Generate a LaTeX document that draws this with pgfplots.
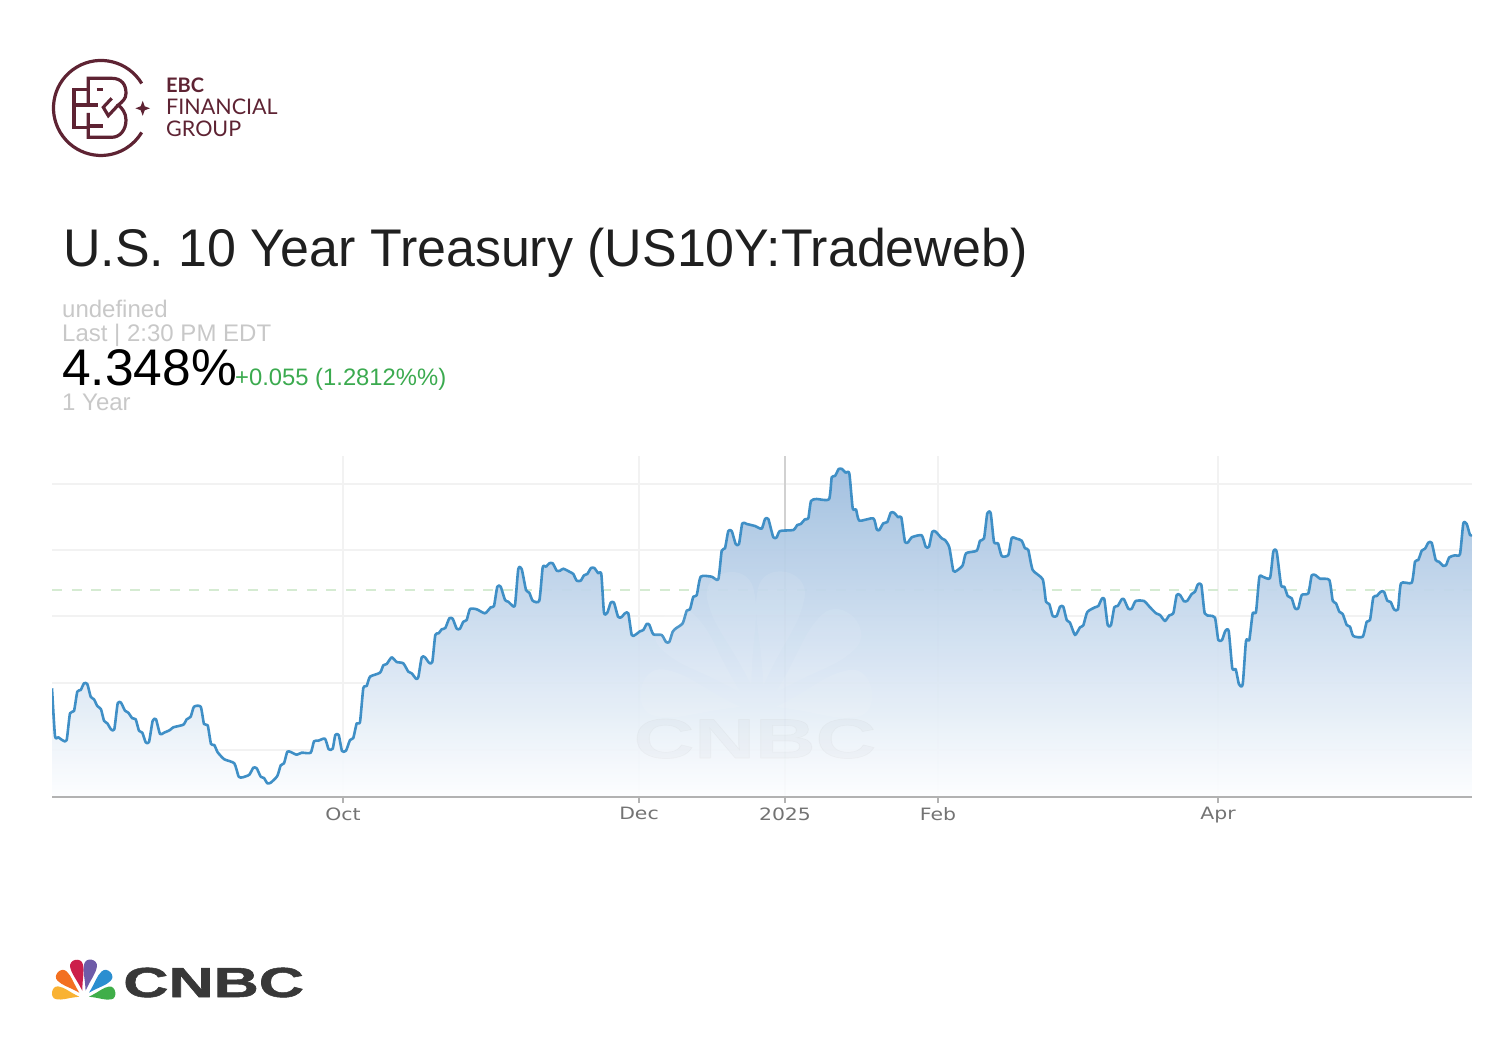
\documentclass[border=0pt]{standalone}
\usepackage{fontspec}
\setmainfont{Liberation Sans}
\newfontfamily\logofont{Lato}
\newfontfamily\tickfont{DejaVu Sans}
\newfontfamily\cnbcfont[BoldFeatures={FakeBold=1.2}]{Liberation Sans}
\usepackage{pgfplots}
\usepackage{pgfplotstable}
\pgfplotsset{compat=1.18}

\definecolor{ebc}{HTML}{5E2333}
\definecolor{linec}{HTML}{3F8FC6}
\definecolor{gridc}{HTML}{F2F2F2}
\definecolor{dashc}{HTML}{D5EBD2}
\definecolor{lightc}{HTML}{C8C8C8}
\definecolor{upc}{HTML}{3BAA4F}
\definecolor{gradtop}{HTML}{9FBEDF}
\definecolor{gradmid}{HTML}{D8E5F2}
\definecolor{gradbot}{HTML}{FDFEFF}
\definecolor{logoY}{HTML}{F9B233}
\definecolor{logoO}{HTML}{F37021}
\definecolor{logoR}{HTML}{CC1F4A}
\definecolor{logoP}{HTML}{6E5BA8}
\definecolor{logoB}{HTML}{2B8ED0}
\definecolor{logoG}{HTML}{3FAE49}

% x = horizontal position on the chart, h = height above the baseline, both
\pgfplotstableread[row sep=\\]{
x h\\
52 108.7\\ 55 61\\ 58.3 59.7\\ 63.3 56.3\\ 66.7 57\\ 70 83.7\\ 74 86\\ 77.3 105.3\\ 80.7 107\\ 84 113.7\\
87.3 113\\ 90.7 100.3\\ 94 97.7\\ 97.3 91\\ 101 87.7\\ 104 76.3\\ 107.3 73.7\\ 111 67.7\\ 114.3 67.7\\ 117.7 93.7\\
121 94.3\\ 125 86.3\\ 128.3 84.3\\ 132.3 78.7\\ 135.7 77.7\\ 139 66.3\\ 142.3 64.3\\ 145.7 54.7\\ 149 55\\ 152.7 76.3\\
156 77.7\\ 160 63\\ 164 64.3\\ 170 67\\ 173.3 69.7\\ 183.3 72.3\\ 186.7 77.7\\ 190.7 80.3\\ 194 90.3\\ 200.7 90.3\\
204 73\\ 207.7 71.7\\ 211 53\\ 214.3 52\\ 217.7 44.7\\ 224.3 37.7\\ 234.3 33.7\\ 238.7 20.3\\ 242.7 19.7\\ 249.3 22.3\\
253.3 29.3\\ 256.7 28.7\\ 260.7 20.3\\ 264 19\\ 267.3 13.7\\ 270.7 14.3\\ 277.3 21\\ 280.7 31.7\\ 284 33.7\\ 287.3 45.3\\
290.7 45\\ 296.7 42.3\\ 301.7 44.3\\ 310.7 44.3\\ 314 55.7\\ 318.3 56.3\\ 325 58.3\\ 328.7 47.7\\ 332.7 48.3\\ 335.3 62\\
338.7 62\\ 342 46\\ 346 46.3\\ 350 57\\ 353.3 59\\ 356.7 73.7\\ 360 75\\ 363.3 108.7\\ 366.7 111\\ 370 120.3\\
380 124.3\\ 383.3 131.7\\ 386.7 133\\ 391.7 139.7\\ 396.7 135\\ 403.3 133.7\\ 408.3 125.3\\ 411.7 123.7\\ 416 118.3\\ 418.3 119.7\\
421.7 139.7\\ 425 139.7\\ 429 134.3\\ 432.3 135\\ 435.3 162\\ 438.7 163.7\\ 441.7 167.7\\ 445.3 169\\ 449.3 178.7\\ 452.7 178.3\\
456.7 168.3\\ 460 168.3\\ 463.3 175.3\\ 466.7 177\\ 470 188\\ 476.7 187.7\\ 485 183.7\\ 490.7 189.7\\ 494 191\\ 497.3 210.3\\
500.7 210.3\\ 505 197\\ 508.3 195.3\\ 511.7 192\\ 515 192\\ 518.3 228\\ 521.7 228\\ 526 207\\ 529.3 204.3\\ 532.7 196.3\\
539.3 196.3\\ 542.7 229.7\\ 546 230.3\\ 549.3 233.7\\ 552.7 233.7\\ 556.7 226.3\\ 560 226.3\\ 563.3 228.3\\ 570 225\\ 573.3 223\\
576.7 216.3\\ 580.7 216.3\\ 584 221.7\\ 587.3 223\\ 591 229\\ 594.3 229\\ 598.3 223.7\\ 601.3 223\\ 604 184.3\\ 607.3 184.3\\
610.7 194.3\\ 614 194.3\\ 618 180.3\\ 621.3 179.7\\ 625 183.7\\ 628.3 183.7\\ 631.7 162\\ 635 162\\ 640 165.7\\ 643.3 167\\
646.7 173\\ 649.3 172.3\\ 653.3 162.7\\ 661.7 162\\ 666 155\\ 669.3 155\\ 672.7 165.3\\ 676 168.7\\ 682.7 173.7\\ 686.7 186.3\\
690 187.7\\ 693.3 200.3\\ 696.7 201.7\\ 700.7 220.3\\ 711.7 220.3\\ 718.3 217.7\\ 721.7 246.3\\ 725 248.7\\ 728.3 266\\ 731.7 266\\
735.7 253\\ 739 253\\ 742.3 273.7\\ 746.7 273\\ 755 271\\ 761.7 268.3\\ 765 278\\ 768.3 278\\ 773.3 259.7\\ 776.7 259.7\\
780 266\\ 793.3 267\\ 797.3 272\\ 800.7 273\\ 805 277.7\\ 808.3 278.7\\ 811 296\\ 816.7 298\\ 829 297.7\\ 831.7 319.7\\
835 321\\ 838.7 328\\ 842 328\\ 845.7 324.3\\ 849.3 323.7\\ 852.7 288.7\\ 856 287.7\\ 859.3 276.3\\ 873.3 278.7\\ 876.7 267.7\\
879.3 267\\ 883.3 273.7\\ 887.3 275\\ 890.7 284.3\\ 894 284.3\\ 898.3 279.7\\ 901.3 279.7\\ 905 255\\ 908.3 255\\ 911.7 259.7\\
921.7 261.7\\ 925.7 250.3\\ 929 250.3\\ 932.3 265.3\\ 935.7 265.3\\ 941.7 258.7\\ 945 257\\ 949.3 249.7\\ 953.3 226.3\\ 956.7 226.3\\
962.7 231.7\\ 966 243.7\\ 976.7 246.3\\ 980 256.3\\ 984 258.7\\ 987.3 283.7\\ 990.7 283.7\\ 994 255\\ 998 253.7\\ 1001.7 241\\
1008.3 242\\ 1011.7 259\\ 1016.7 258.3\\ 1021.7 256.3\\ 1025 248.7\\ 1028.3 247\\ 1032.7 227\\ 1042.7 217.7\\ 1046 195.3\\ 1049.3 193\\
1052.7 181\\ 1056.7 181\\ 1060 190.3\\ 1063.3 190.3\\ 1066.7 177\\ 1070 174.3\\ 1075 162\\ 1080 169.7\\ 1083.3 171.7\\ 1087.3 185\\
1095 189.7\\ 1098.3 191\\ 1101.7 198\\ 1104.3 198\\ 1107.7 172\\ 1111 172\\ 1114.3 189.7\\ 1117.7 191\\ 1121.7 197.7\\ 1124 197.7\\
1128.3 188.3\\ 1131.7 188.3\\ 1135.7 196\\ 1144 196\\ 1150 189.7\\ 1156 183.7\\ 1160 182\\ 1165 176\\ 1169.3 181.7\\ 1173.3 183.7\\
1176.7 202\\ 1180 202\\ 1184 195.7\\ 1187.3 196.3\\ 1191.7 203\\ 1195 205.3\\ 1197.7 212.3\\ 1201.3 212.3\\ 1204.7 183.7\\ 1210 181.3\\
1215 179.3\\ 1218.3 157\\ 1222 157\\ 1225.3 166\\ 1228.7 166\\ 1232.3 128.7\\ 1235.7 127.7\\ 1239 112.7\\ 1242.7 112.7\\ 1246 156\\
1249.3 157\\ 1252.7 183.7\\ 1256 185\\ 1259.3 219.7\\ 1262.7 220.3\\ 1270 219\\ 1273.3 245.3\\ 1276.7 245.3\\ 1281 212\\ 1284.3 210.3\\
1287.7 201\\ 1291.7 198.7\\ 1295 188.7\\ 1298.3 188.7\\ 1301.7 202\\ 1308.3 203.7\\ 1311.7 221.7\\ 1315.7 221.7\\ 1320 218.3\\ 1329.3 217\\
1332.7 196.3\\ 1336 193.7\\ 1339.3 185.3\\ 1342.7 183\\ 1346.7 172\\ 1350 170.3\\ 1353.3 161\\ 1362.7 160.3\\ 1366.7 175.3\\ 1370 177\\
1373.3 199.7\\ 1376.7 201\\ 1380.7 205.3\\ 1384 205.3\\ 1387.3 196.3\\ 1390.7 195\\ 1394 187.7\\ 1398 187.7\\ 1401 213.7\\ 1411.7 214.3\\
1415 235.3\\ 1418.3 237\\ 1421.7 246.3\\ 1425 248.3\\ 1428.3 254.3\\ 1431.7 254.3\\ 1435.7 237\\ 1439 235.3\\ 1443.3 231\\ 1446 231.7\\
1449.3 239.7\\ 1455 241.7\\ 1460 243\\ 1463.3 273.7\\ 1466.7 273\\ 1470 262\\ 1472 262\\
}\curve

% peacock feather: colour, base point, length, half width, angle
\newcommand{\feather}[6]{\fill[#1,shift={(#2,#3)},rotate=#6]
  (0,0) .. controls (.45*#4,.55*#5) and (.55*#4,#5) .. (.8*#4,#5)
  .. controls (1.05*#4,#5) and (1.05*#4,-#5) .. (.8*#4,-#5)
  .. controls (.55*#4,-#5) and (.45*#4,-.55*#5) .. (0,0) -- cycle;}
\newcommand{\peacock}[6]{%
  \feather{#1}{-4}{0}{28}{6.5}{170}
  \feather{#2}{-4}{4}{30}{6.5}{136}
  \feather{#3}{-1}{6}{32}{6.5}{103}
  \feather{#4}{2.3}{6}{32}{6.5}{79}
  \feather{#5}{5.7}{4}{30}{6.5}{44}
  \feather{#6}{5.7}{0}{27}{6.5}{10}}
\newcommand{\txt}[5]{\node[anchor=base west,inner sep=0pt,text=#1] at (#2,#3) {\fontsize{#4}{#4}\selectfont #5};}

\begin{document}
\begin{tikzpicture}[x=1pt,y=1pt]
\path[use as bounding box] (0,0) rectangle (1502,-1056);

% EBC logo
\begin{scope}[draw=ebc,line width=3.2pt,line cap=butt,line join=miter]
\draw (141.7,-83.5) arc[start angle=31,end angle=329,radius=47.5];
\draw (88.3,-89.3) -- (74,-89.3) -- (74,-127.3) -- (88.3,-127.3);
\draw (88.3,-105) -- (88.3,-78.3) -- (111.7,-78.3) .. controls (122,-78.3) and (126,-85) .. (126,-93.3)
  .. controls (126,-99) and (122,-102) .. (118.3,-105) .. controls (122,-108) and (126,-113) .. (126,-120)
  .. controls (126,-130) and (120,-137.3) .. (111.7,-137.3) -- (88.3,-137.3) -- (88.3,-113);
\draw (74,-105) -- (98,-105) (88.3,-126) -- (103,-126) (96.7,-89.3) -- (103.3,-89.3);
\draw (111.7,-98.3) -- (103.3,-107.3) -- (108.3,-115.7) -- (118.3,-105);
\fill[ebc] (142.7,-100.8) -- (144.7,-106.3) -- (150,-108.3) -- (144.7,-110.3) -- (142.7,-115.8) -- (140.7,-110.3) -- (135.4,-108.3) -- (140.7,-106.3) -- cycle;
\end{scope}
\node[anchor=base west,inner sep=0pt,text=ebc] at (166,-93) {\logofont\bfseries\fontsize{20}{20}\selectfont EBC};
\node[anchor=base west,inner sep=0pt,text=ebc] at (166,-115) {\logofont\fontsize{21.5}{21.5}\selectfont FINANCIAL};
\node[anchor=base west,inner sep=0pt,text=ebc] at (166,-137) {\logofont\fontsize{21.5}{21.5}\selectfont GROUP};

% headline block
\node[anchor=base west,inner sep=0pt,text=black!88,xscale=.98] at (63,-267) {\fontsize{53}{53}\selectfont U.S. 10 Year Treasury (US10Y:Tradeweb)};
\txt{lightc}{62}{-318}{24}{undefined}
\txt{lightc}{62}{-342}{24}{Last | 2:30 PM EDT}
\txt{black}{62}{-386}{51.5}{4.348\%}
\txt{upc}{235}{-386}{23.8}{+0.055 (1.2812\%\%)}
\txt{lightc}{62}{-410}{24}{1 Year}

\begin{axis}[
  at={(52,-797)},
  anchor=south west,
  scale only axis,
  width=1420pt,
  height=341pt,
  xmin=52, xmax=1472,
  ymin=0, ymax=341,
  axis x line*=bottom,
  axis y line*=left,
  y axis line style={draw=none},
  x axis line style={draw=none},
  xtick={343,639,785,938,1218},
  xticklabels={Oct,Dec,2025,Feb,Apr},
  ytick={47,114,181,247,313},
  yticklabels={},
  ytick style={draw=none},
  xtick style={draw=black!30,line width=1.2pt},
  tick align=outside,
  major tick length=6pt,
  xmajorgrids, ymajorgrids,
  grid style={draw=gridc,line width=1.6pt},
  xticklabel style={font=\tickfont\fontsize{17}{17}\selectfont,text=black!55,xscale=1.2,yshift=-1pt},
  no markers,
]
\addplot[draw=black!18,line width=1.6pt] coordinates {(785,0) (785,341)};
\addplot[draw=dashc,line width=1.6pt,dash pattern=on 10pt off 9.6pt] coordinates {(52,207) (1472,207)};
\addplot[draw=none,top color=gradtop,middle color=gradmid,bottom color=gradbot,fill opacity=.95] table[x=x,y=h] {\curve} \closedcycle;
\addplot[draw=linec,line width=2.6pt,line join=round,smooth,tension=0.35] table[x=x,y=h] {\curve};
\end{axis}
\draw[black!30,line width=2.4pt] (52,-797) -- (1472,-797);

% watermark inside the chart
\begin{scope}[shift={(755,-707)},scale=3.65,opacity=.08]
\peacock{white}{white}{white}{white}{white}{white}
\end{scope}
\node[anchor=base,inner sep=0pt,text=black,opacity=.02,xscale=1.5] at (755,-758) {\cnbcfont\bfseries\fontsize{56}{56}\selectfont CNBC};

% CNBC logo
\begin{scope}[shift={(83.3,-996.7)}]
\peacock{logoY}{logoO}{logoR}{logoP}{logoB}{logoG}
\end{scope}
\node[anchor=base west,inner sep=0pt,text=black!78,xscale=1.49] at (123,-997) {\cnbcfont\bfseries\fontsize{42}{42}\selectfont CNBC};
\end{tikzpicture}
\end{document}
